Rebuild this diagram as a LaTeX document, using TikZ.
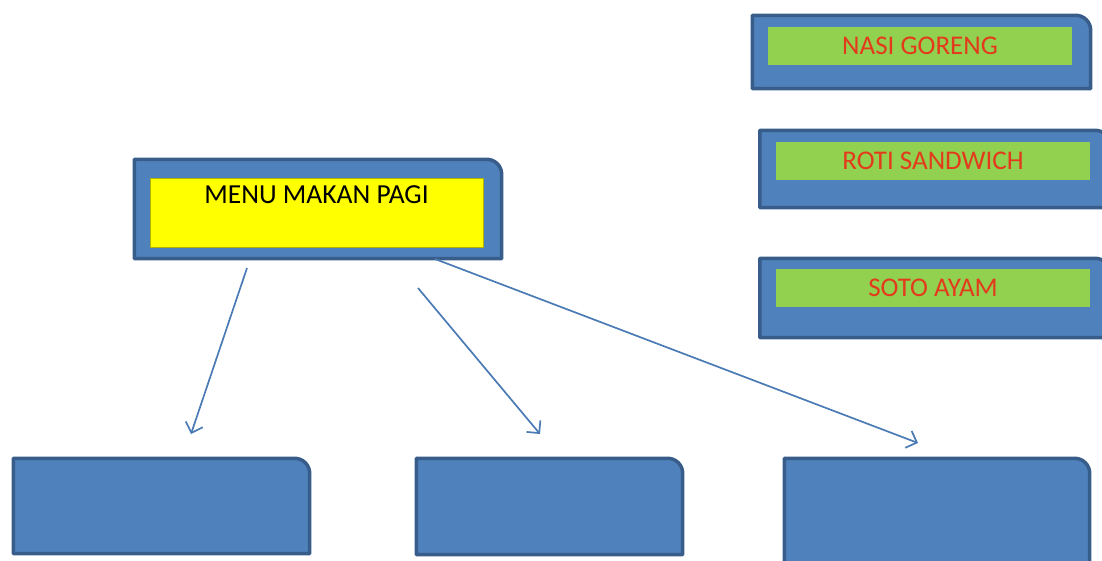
\documentclass[tikz,border=0pt]{standalone}
\usepackage{fontspec}
\setmainfont{Carlito}
\usetikzlibrary{arrows.meta}
\definecolor{tabfill}{HTML}{4F81BD}
\definecolor{tabedge}{HTML}{385D8A}
\definecolor{menuyellow}{HTML}{FFFF00}
\definecolor{menugreen}{HTML}{92D050}
\definecolor{menured}{HTML}{E43A1C}
\begin{document}
\begin{tikzpicture}[x=1pt,y=1pt,>={Straight Barb[length=9pt,width=18pt]},line join=round,
  tab/.style={inner sep=0pt},
  tabline/.style={fill=tabfill,draw=tabedge,line width=3.5pt},
  judul/.style={fill=menuyellow,draw=menuyellow!70!black,line width=.6pt,inner sep=0pt,
    minimum width=333pt,text height=25pt,text depth=44pt,font=\fontsize{27.5}{32}\selectfont},
  pilihan/.style={fill=menugreen,inner xsep=0pt,inner ysep=10pt,text height=18pt,text depth=0pt,
    text=menured,font=\fontsize{27}{32}\selectfont},
  panah/.style={->,draw=tabfill!95!black,line width=1.7pt}]
 \useasboundingbox (0,0) rectangle (1102,560);
 \node[tab,minimum width=367pt,minimum height=99pt] (menu) at (318,351) {};
 \node[tab,minimum width=338pt,minimum height=73pt] (nasi) at (921.5,508) {};
 \node[tab,minimum width=350pt,minimum height=77pt] (roti) at (935,391) {};
 \node[tab,minimum width=350pt,minimum height=79pt] (soto) at (935,262) {};
 \node[tab,minimum width=296pt,minimum height=95pt] (kotak1) at (161.5,54) {};
 \node[tab,minimum width=266pt,minimum height=96pt] (kotak2) at (549.5,53.5) {};
 \node[tab,minimum width=305pt,minimum height=110pt] (kotak3) at (937,46.5) {};
 \foreach \n in {menu,nasi,roti,soto,kotak1,kotak2,kotak3}
   \draw[tabline] (\n.south west) -- (\n.north west) -- ([xshift=-15pt]\n.north east)
     arc[start angle=90,end angle=0,radius=15pt] -- (\n.south east) -- cycle;
 \node[judul,anchor=north] (judul) at ([xshift=-1.5pt,yshift=-18.5pt]menu.north) {MENU MAKAN PAGI};
 \node[pilihan,minimum width=304pt,anchor=north] (p1) at ([xshift=-1.5pt,yshift=-11.5pt]nasi.north) {NASI GORENG};
 \node[pilihan,minimum width=314pt,anchor=north] (p2) at ([xshift=-2pt,yshift=-11.5pt]roti.north) {ROTI SANDWICH};
 \node[pilihan,minimum width=314pt,anchor=north] (p3) at ([xshift=-2pt,yshift=-10.5pt]soto.north) {SOTO AYAM};
 \coordinate (a1) at (247,292); \coordinate (b1) at (191,126);
 \coordinate (a2) at (418,272); \coordinate (b2) at (540,126);
 \coordinate (a3) at (435,301); \coordinate (b3) at (918,117);
 \draw[panah] (a1) -- (b1);
 \draw[panah] (a2) -- (b2);
 \draw[panah] (a3) -- (b3);
\end{tikzpicture}
\end{document}
